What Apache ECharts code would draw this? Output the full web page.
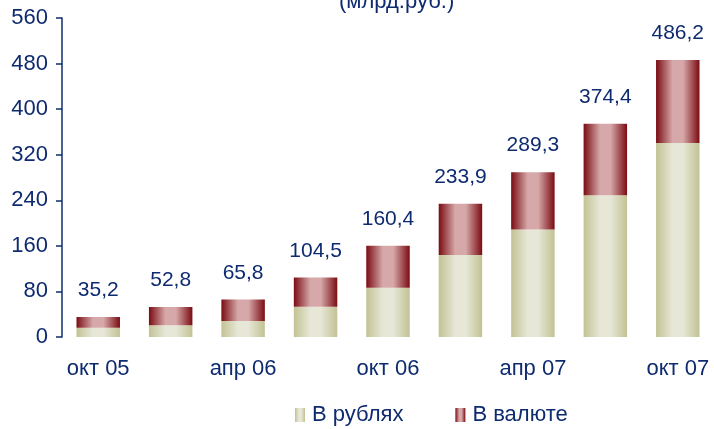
<!DOCTYPE html>
<html><head><meta charset="utf-8">
<script src="https://cdn.jsdelivr.net/npm/echarts@6/dist/echarts.min.js"></script>
<style>html,body{margin:0;padding:0;background:#fff}#c{width:714px;height:429px}</style>
</head><body><div id="c"></div>
<script>
var categories = ['окт 05','янв 06','апр 06','июл 06','окт 06','янв 07','апр 07','июл 07','окт 07'];
var rubles = [16.3, 20.5, 28.0, 53.0, 86.5, 144.0, 188.5, 249.0, 340.5];
var currency = [18.9, 32.3, 37.8, 51.5, 73.9, 89.9, 100.8, 125.4, 145.7];
var totals = ['35,2','52,8','65,8','104,5','160,4','233,9','289,3','374,4','486,2'];
var yTicks = [0, 80, 160, 240, 320, 400, 480, 560];

var navy = '#0f2b6f';
var font = '"Liberation Sans", Arial, sans-serif';
function grad(edge, mid){
  return new echarts.graphic.LinearGradient(0,0,1,0,[
    {offset:0,color:edge},{offset:0.38,color:mid},{offset:0.62,color:mid},{offset:1,color:edge}]);
}
var chart = echarts.init(document.getElementById('c'));
chart.setOption({
  animation:false,
  title:{text:'(млрд.руб.)',left:334,top:-14,textStyle:{color:navy,fontFamily:font,fontSize:22,fontWeight:'normal'}},
  grid:{left:62,right:0,top:18,bottom:92},
  legend:{top:399,left:290,itemWidth:10,itemHeight:14,itemGap:52,icon:'rect',
    textStyle:{color:navy,fontFamily:font,fontSize:22,padding:[0,0,0,2]},
    data:['В рублях','В валюте']},
  xAxis:{type:'category',data:categories,
    axisLine:{show:false},axisTick:{show:false},
    axisLabel:{interval:1,color:navy,fontFamily:font,fontSize:22,margin:21}},
  yAxis:{type:'value',min:0,max:560,interval:80,
    axisLine:{show:true,lineStyle:{color:navy,width:1.5}},
    axisTick:{show:true,length:6,lineStyle:{color:navy,width:1.5}},
    splitLine:{show:false},
    axisLabel:{color:navy,fontFamily:font,fontSize:22,margin:14,
      formatter:function(v){return yTicks.indexOf(v)>=0?String(v):'';}}},
  series:[
    {name:'В рублях',type:'bar',stack:'a',barWidth:'60%',data:rubles,
      itemStyle:{color:grad('#c2c294','#e7e7d7')}},
    {name:'В валюте',type:'bar',stack:'a',barWidth:'60%',data:currency,
      itemStyle:{color:grad('#7a0c12','#d6a8a9')},
      label:{show:true,position:'top',distance:16,color:navy,fontFamily:font,fontSize:21,
        formatter:function(p){return totals[p.dataIndex];}}}
  ]
});
</script></body></html>
